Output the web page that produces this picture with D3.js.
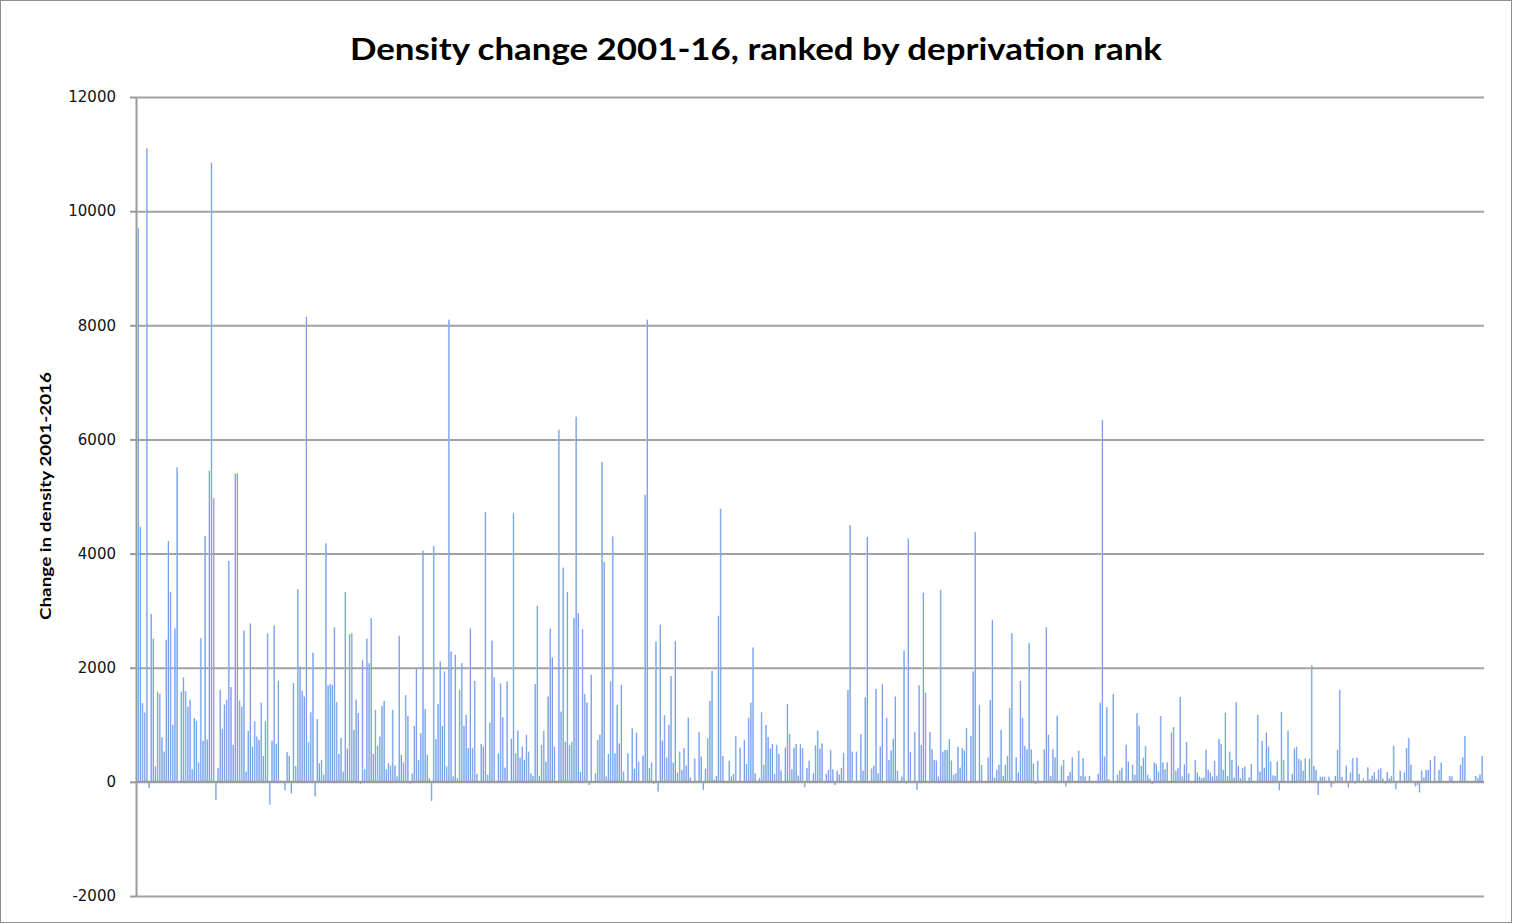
<!DOCTYPE html>
<html>
<head>
<meta charset="utf-8">
<script src="https://cdn.jsdelivr.net/npm/d3@7"></script>
<style>
  html, body { margin: 0; padding: 0; background: #ffffff; }
  svg { display: block; }
</style>
</head>
<body>
<svg id="chart" width="1513" height="924"></svg>
<script>
// ---- Data (in rank order, left to right) ----
const title = "Density change 2001-16, ranked by deprivation rank";
const yAxisTitle = "Change in density 2001-2016";
const yTickValues = [-2000, 0, 2000, 4000, 6000, 8000, 10000, 12000];

const seg1 = [9700, 4470, 1380, 1215, 11100, -110, 2940, 2510, 270, 1580, 1540, 780, 530, 2490, 4220, 3330, 1000, 2690, 5510, -20, 1580, 1830, 1590, 1320, 1440, 220, 1120, 1070, 340, 2520, 720, 4310, 740, 5450, 10850, 4970, -315, 245, 1610, 930, 1355, 1440, 3870, 1660, 650, 5400, 5410, 1425, 1320, 2650, 180, 895, 2775, 620, 1060, 795, 735, 1390, 455, 1060, 2605, -400, 720, 2740, 665, 1770, 20, 10, -150, 520, 455, -200, 1730, 280, 3375, 2020, 1595, 1495, 8150, 695, 1220, 2265, -255, 1100, 325, 385, 125, 4180, 1690, 1715];
const seg2 = [1695, 2710, 1400, 490, 770, 180, 3325, 585, 2585, 2605, 910, 1440, 1205, -40, 2140, 220, 2510, 2080, 2870, 490, 1260, 635, 795, 1330, 1420, 220, 325, 285, 1260, 285, 95, 2560, 475, 340, 1520, 1155, -30, 145, 980, 1975, 385, 855, 4050, 1275, 475, 65, -335, 4135, 750, 1365, 2110, 980, 1935, 270, 8100, 2285, 95, 2225, 65, 1610, 2080, 980, 1175, 590, 2690, 590, 1770, 140, 10, 665, 620, 4730, 125, 1040, 2475, 1830, 15, 500, 1725, 1135, 250, 1760, 15, 755, 4705, 500, 900, 425, 620];
const seg3 = [385, 825, 530, 150, 105, 1715, 3085, 105, 650, 895, 355, 1495, 2685, 2180, 620, 15, 6170, 1230, 3755, 705, 3330, 650, 705, 2875, 6400, 2955, 175, 2675, 1540, 1390, -55, 1875, 15, 150, 735, 825, 5605, 3855, 95, 490, 1760, 4300, 500, 1350, 675, 1700, 180, 15, 500, 15, 940, 230, 865, 355, -10, 460, 5030, 8100, 240, 340, -35, 2455, -170, 2755, 725, 1170, 425, 1000, 1855, 340, 2465, 165, 530, 210, 590, 285, 1125, 80, -20, 410, 15, 870, 445, -140, 230, 765, 1420, 1945, 35];
const seg4 = [105, 2910, 4785, 455, 15, 10, 370, 95, 140, 805, 15, 600, 15, 735, 315, 1125, 1390, 2355, 150, 10, 65, 1220, 300, 1000, 785, 585, 660, 140, 650, 490, 200, 15, 600, 1365, 840, 220, 600, 665, 110, 660, 590, -95, 245, 370, 15, 150, 640, 900, 585, 675, 15, 140, 210, 560, 220, -55, 200, 130, 240, 510, 15, 1610, 4500, 530, 15, 530, 15, 835, 195, 1480, 4290, 15, 235, 285, 1630, 150, 620, 1710, 15, 1125, 385, 550, 755, 1495, 195, -20, 95, 2300, -30, 4265];
const seg5 = [525, 15, 870, -140, 1690, 650, 3315, 1565, 15, 875, 570, 385, 375, 95, 3365, 530, 560, 560, 750, 375, 125, 150, 620, 250, 590, 550, 945, 15, 805, 1935, 4375, 15, 1350, 300, 15, 10, 425, 1435, 2840, 75, 210, 300, 910, 105, 300, 455, 1295, 2605, 15, 430, 165, 1770, 1125, 630, 570, 2430, 570, 325, -35, 370, 15, 10, 570, 2710, 825, 105, 570, 430, 1160, 15, 285, 385, -80, 105, 175, 430, -20, -10, 545, 105, 415, 95, 15, 105, 10, 15, -20, 140, 1390];
const seg6 = [6340, 445, 1310, 45, 15, 1540, 15, 125, 200, 250, 15, 650, 355, 15, 300, 125, 1205, 985, 280, 425, 630, 125, 60, -40, 340, 315, 180, 1155, 340, 220, 340, -10, 865, 960, 200, 240, 1490, 95, 305, 700, 150, 15, 10, 385, 165, 95, 65, 80, 560, 210, 165, 95, 370, 105, 750, 665, 210, 1215, 105, 530, 385, 75, 1395, 285, 65, 240, 270, 15, 80, 310, -20, 15, 1175, 180, 720, 245, 865, 620, 355, 115, 105, 355, -150, 1225, 385, 15, 900, 15, 140, 585];
const seg7 = [615, 405, 375, 195, 410, 15, 405, 2045, 280, 210, -230, 90, 90, 90, -10, 90, -95, -30, 105, 560, 1610, 90, -20, 285, -95, 165, 415, -30, 425, 140, -10, 60, 15, 255, 45, 110, 170, 45, 210, 240, 60, -30, 175, 60, 105, 635, -130, 15, 195, -10, 165, 595, 770, 300, 15, -80, -60, -185, 200, 80, 210, 210, 385, 15, 455, -10, 210, 340, 15, -20, 15, 105, 95, -10, 15, 15, 300, 430, 805, 15, 15, 15, -20, 105, 70, 130, 455];

const values = [].concat(seg1, seg2, seg3, seg4, seg5, seg6, seg7);
const ranks = values.map((d, i) => i + 1);

// ---- Layout ----
const W = 1513, H = 924;
const plot = { left: 136, right: 1484, top: 97, bottom: 896 };

const svg = d3.select("#chart");

// frame
svg.append("rect")
  .attr("x", 0.5).attr("y", 0.5)
  .attr("width", W - 2).attr("height", H - 2)
  .attr("fill", "#ffffff").attr("stroke", "#8e8e8e").attr("stroke-width", 1);

const defs = svg.append("defs");
const grad = defs.append("linearGradient")
  .attr("id", "barGrad").attr("x1", "0").attr("x2", "1").attr("y1", "0").attr("y2", "0");
grad.append("stop").attr("offset", "0").attr("stop-color", "#b3cbf3");
grad.append("stop").attr("offset", "0.5").attr("stop-color", "#88aeee");
grad.append("stop").attr("offset", "1").attr("stop-color", "#4c83df");

const x = d3.scaleBand()
  .domain(ranks)
  .range([plot.left, plot.right])
  .paddingInner(0.3)
  .paddingOuter(0.6);

const y = d3.scaleLinear()
  .domain([-2000, 12000])
  .range([plot.bottom, plot.top]);

// gridlines
const grid = svg.append("g")
  .attr("transform", `translate(${plot.left},0)`)
  .call(d3.axisLeft(y).tickValues(yTickValues).tickSize(-(plot.right - plot.left)).tickFormat(""));
grid.select(".domain").remove();
grid.selectAll(".tick line")
  .attr("stroke", "#a2a2a2").attr("stroke-width", 2);

// y axis with ticks and labels (drawn before bars so the first bar stays visible)
const yAxis = svg.append("g")
  .attr("transform", `translate(${plot.left},0)`)
  .call(d3.axisLeft(y).tickValues(yTickValues).tickSize(6).tickSizeOuter(0).tickPadding(14).tickFormat(d => String(d)));
yAxis.select(".domain").attr("stroke", "#9a9a9a").attr("stroke-width", 2);
yAxis.selectAll(".tick line").attr("stroke", "#9a9a9a").attr("stroke-width", 2);
yAxis.selectAll(".tick text")
  .attr("fill", "#111")
  .style("font-family", "'DejaVu Sans', Verdana, sans-serif")
  .style("font-size", "15px");

// bars
svg.append("g")
  .selectAll("rect")
  .data(values)
  .join("rect")
  .attr("x", (d, i) => x(ranks[i]))
  .attr("width", x.bandwidth())
  .attr("y", d => y(Math.max(0, d)))
  .attr("height", d => Math.abs(y(d) - y(0)))
  .attr("fill", "url(#barGrad)");

// zero line over bars
svg.append("line")
  .attr("x1", plot.left).attr("x2", plot.right)
  .attr("y1", y(0)).attr("y2", y(0))
  .attr("stroke", "#9a9a9a").attr("stroke-width", 2);

// title
svg.append("text")
  .attr("x", 756).attr("y", 60)
  .attr("text-anchor", "middle")
  .attr("textLength", 812)
  .attr("lengthAdjust", "spacingAndGlyphs")
  .style("font-family", "Lato, 'Open Sans', sans-serif")
  .style("font-weight", "bold")
  .style("font-size", "31px")
  .attr("fill", "#000")
  .text(title);

// y-axis title
svg.append("text")
  .attr("transform", "translate(51,496) rotate(-90)")
  .attr("text-anchor", "middle")
  .attr("textLength", 248)
  .attr("lengthAdjust", "spacingAndGlyphs")
  .style("font-family", "Lato, 'Open Sans', sans-serif")
  .style("font-weight", "bold")
  .style("font-size", "16px")
  .attr("fill", "#000")
  .text(yAxisTitle);
</script>
</body>
</html>
